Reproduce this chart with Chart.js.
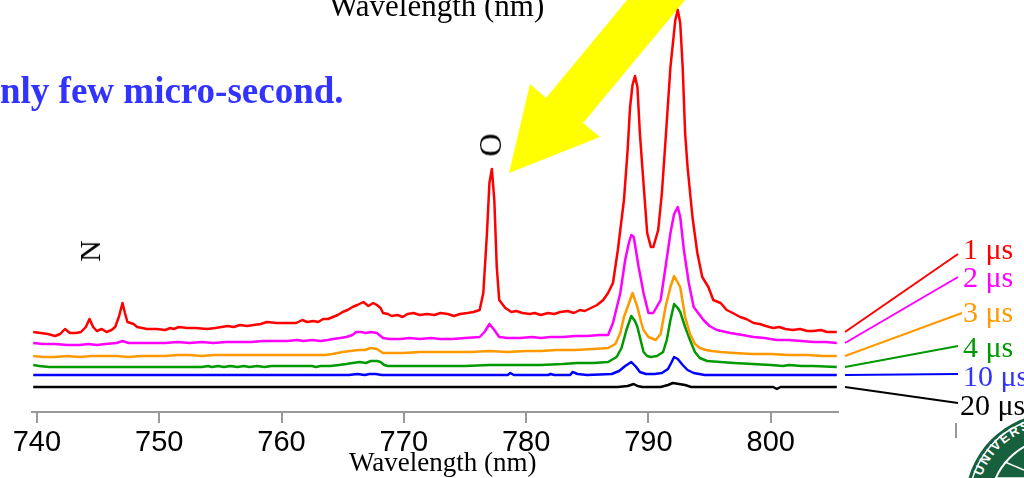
<!DOCTYPE html>
<html lang="en">
<head>
<meta charset="UTF-8">
<meta name="viewport" content="width=device-width, initial-scale=1.0">
<title>Emission spectra vs. delay</title>
<script src="https://cdn.jsdelivr.net/npm/chart.js"></script>
<style>
    body {
        margin: 0;
        padding: 0;
        background: #fff;
        overflow: hidden;
    }
    #page {
        position: relative;
        width: 1024px;
        height: 478px;
        overflow: hidden;
    }
    #deco {
        position: absolute;
        left: 0;
        top: 0;
    }
    #chartBox {
        position: absolute;
        left: 0;
        top: 0;
        width: 1024px;
        height: 478px;
    }
    .txt {
        position: absolute;
        white-space: nowrap;
        line-height: 1;
        font-family: "Liberation Serif", "Times New Roman", serif;
        color: #000;
    }
    .rot {
        transform: translate(-50%, -50%) rotate(-90deg);
    }
    .delay {
        font-size: 30px;
    }
</style>
</head>
<body>

<div id="page">
    <svg id="deco" width="1024" height="478">
        <!-- big yellow pointer -->
        <polygon points="509,173 600,137 583,123 700,-18 642,-18 546,98 530,84" fill="#ffff00"/>
        <!-- tick of the neighbouring axis -->
        <line x1="956" y1="423" x2="956" y2="438" stroke="#999" stroke-width="2"/>
        <!-- seal, bottom right -->
        <circle cx="1055" cy="503" r="90" fill="#17603d"/>
        <circle cx="1055" cy="503" r="86" fill="none" stroke="#fff" stroke-width="1.5"/>
        <path id="sealArc" d="M 981.7 476.3 A 78 78 0 0 1 1128.3 476.3" fill="none"/>
        <text font-family="Liberation Sans, Arial, sans-serif" font-weight="bold" font-size="13" fill="#fff" letter-spacing="2">
            <textPath href="#sealArc">UNIVERSITY</textPath>
        </text>
        <circle cx="1055" cy="503" r="64" fill="none" stroke="#fff" stroke-width="2"/>
        <line x1="996" y1="478" x2="1024" y2="478" stroke="#fff" stroke-width="1.5"/>
        <line x1="1005" y1="462" x2="1024" y2="470" stroke="#fff" stroke-width="1.5"/>
    </svg>

    <div id="chartBox"><canvas id="spectra"></canvas></div>

    <div class="txt" style="left:329px; top:-10px; font-size:31px;">Wavelength (nm)</div>
    <div class="txt" style="left:0px; top:72px; font-size:37px; font-weight:bold; color:#3333ff;">nly few micro-second.</div>
    <div class="txt" style="left:349px; top:449px; font-size:27px;">Wavelength (nm)</div>

    <div class="txt rot" style="left:490px; top:145px; font-size:32px;">O</div>
    <div class="txt rot" style="left:90px; top:251px; font-size:30px;">N</div>

    <div class="txt delay" style="left:963px; top:234px; color:#ff0000;">1 μs</div>
    <div class="txt delay" style="left:963px; top:262px; color:#ff00ff;">2 μs</div>
    <div class="txt delay" style="left:963px; top:297px; color:#ff9900;">3 μs</div>
    <div class="txt delay" style="left:963px; top:332px; color:#009900;">4 μs</div>
    <div class="txt delay" style="left:963px; top:361px; color:#3333ff;">10 μs</div>
    <div class="txt delay" style="left:960px; top:390px; color:#000;">20 μs</div>
</div>

<script>
    // wavelength axis ticks (nm)
    const xTicks = [740, 750, 760, 770, 780, 790, 800];

    // spectra, stacked with an offset per delay (arbitrary units)
    const lam1us = [739.7, 740.3, 740.9, 741.5, 741.9, 742.3, 742.7, 743.2, 743.6, 744.0, 744.3, 744.6, 744.9, 745.3, 745.7, 746.1, 746.4, 746.7, 747.0, 747.2, 747.4, 747.9, 748.2, 748.6, 749.0, 749.8, 750.5, 750.9, 751.2, 751.6, 752.3, 753.0, 753.9, 754.6, 755.6, 756.1, 756.6, 757.2, 757.7, 758.3, 758.8, 759.6, 760.5, 761.2, 761.7, 762.1, 762.6, 763.0, 763.4, 763.8, 764.2, 764.6, 765.0, 765.4, 765.8, 766.2, 766.7, 767.1, 767.5, 767.8, 768.1, 768.3, 768.7, 769.0, 769.5, 769.9, 770.3, 770.8, 771.3, 771.9, 772.5, 773.0, 773.6, 774.1, 774.6, 775.2, 775.7, 776.2, 776.5, 776.8, 777.0, 777.2, 777.4, 777.6, 777.8, 778.3, 778.8, 779.2, 779.7, 780.3, 780.7, 781.2, 781.8, 782.3, 782.8, 783.4, 783.9, 784.4, 784.8,
        785.3, 785.8, 786.3, 786.7, 787.1, 787.5, 788.0, 788.3, 788.5, 788.7, 788.9, 789.1, 789.3, 789.5, 789.7, 789.9, 790.2, 790.4, 790.8, 791.1, 791.4, 791.8, 792.2, 792.4, 792.6, 792.8, 793.0, 793.2, 793.6, 794.0, 794.4, 794.9, 795.3, 795.9, 796.4, 796.9, 797.5, 798.0, 798.6, 799.1, 799.6, 800.2, 800.7, 801.2, 801.8, 802.4, 803.0, 803.5, 804.1, 804.6, 805.4];
    const sig1us = [80, 79, 78, 76, 78, 83, 79, 79, 80, 85, 93, 85, 81, 83, 80, 82, 85, 95, 109, 99, 90, 88, 85, 84, 83, 83, 82, 84, 83, 85, 84, 84, 83, 84, 86, 85, 87, 86, 87, 88, 90, 89, 89, 89, 92, 90, 91, 90, 93, 93, 95, 97, 100, 102, 105, 107, 110, 106, 109, 107, 104, 99, 98, 96, 97, 95, 98, 99, 97, 98, 97, 99, 98, 96, 98, 99, 100, 102, 119, 179, 229, 243, 212, 145, 112, 104, 100, 101, 99, 98, 99, 97, 99, 98, 100, 101, 99, 102, 101,
        104, 107, 112, 119, 129, 162, 212, 262, 305, 327, 336, 325, 279, 245, 212, 179, 165, 165, 182, 219, 272, 345, 392, 402, 389, 345, 279, 245, 195, 159, 135, 125, 112, 109, 102, 99, 95, 93, 89, 88, 86, 84, 85, 83, 82, 83, 81, 81, 82, 80, 80];

    const lam2us = [739.7, 740.5, 741.5, 742.5, 743.5, 744.2, 744.9, 745.6, 746.5, 747.0, 747.5, 748.5, 749.5, 750.5, 751.5, 752.5, 753.5, 754.4, 755.5, 756.5, 757.5, 758.5, 759.5, 760.5, 761.3, 761.8, 762.5, 763.2, 763.8, 764.2, 764.8, 765.3, 765.8, 766.1, 766.5, 766.9, 767.3, 767.8, 768.1, 768.3, 768.8, 769.7, 770.5, 771.3, 772.2, 773.0, 774.0, 775.0, 776.2, 776.6, 777.0, 777.4, 777.8, 778.5, 779.5, 780.5, 781.2, 782.0, 783.0, 784.0, 785.0, 786.0,
        786.7, 787.1, 787.4, 787.7, 788.1, 788.4, 788.6, 788.8, 789.2, 789.6, 790.0, 790.4, 791.0, 791.4, 791.8, 792.1, 792.4, 792.6, 792.9, 793.3, 793.7, 794.5, 795.0, 795.6, 796.7, 797.7, 798.6, 799.5, 800.5, 801.5, 802.5, 803.5, 804.5, 805.4];
    const sig2us = [69, 68, 68, 67, 67, 68, 67, 68, 69, 71, 69, 69, 69, 69, 70, 69, 70, 69, 70, 70, 70, 71, 71, 71, 72, 71, 72, 71, 72, 73, 74, 75, 77, 80, 80, 79, 80, 79, 76, 74, 73, 73, 74, 73, 74, 73, 73, 74, 75, 80, 88, 82, 75, 74, 74, 75, 74, 75, 75, 76, 76, 77,
        77, 89, 104, 119, 152, 169, 177, 175, 145, 119, 99, 99, 112, 145, 179, 198, 205, 195, 162, 129, 105, 92, 86, 82, 79, 77, 75, 74, 72, 72, 71, 70, 70, 69];

    const lam3us = [739.7, 740.5, 741.5, 742.5, 743.5, 744.5, 745.5, 746.5, 747.5, 748.5, 749.5, 750.5, 751.5, 752.5, 753.5, 754.5, 755.5, 756.5, 757.5, 758.5, 759.5, 760.5, 761.5, 762.5, 763.5, 764.2, 765.0, 765.6, 766.3, 766.8, 767.3, 767.8, 768.3, 769.0, 770.0, 771.3, 772.5, 774.0, 775.5, 777.0, 778.5, 780.0, 781.2, 782.5, 784.0, 785.5,
        786.7, 787.3, 787.7, 788.0, 788.3, 788.7, 789.1, 789.4, 789.6, 790.0, 790.6, 791.0, 791.4, 791.8, 792.1, 792.6, 793.0, 793.4, 793.8, 794.2, 794.7, 795.2, 795.9, 797.0, 798.5, 800.0, 801.5, 803.0, 804.2, 805.4];
    const sig3us = [56, 55, 55, 56, 55, 56, 56, 56, 55, 56, 56, 56, 57, 57, 56, 57, 57, 57, 57, 57, 57, 57, 57, 57, 57, 58, 60, 61, 62, 62, 64, 63, 59, 59, 59, 60, 60, 60, 60, 61, 60, 61, 61, 62, 62, 63,
        64, 68, 79, 95, 105, 119, 105, 90, 82, 75, 72, 78, 105, 125, 136, 125, 95, 78, 68, 64, 62, 61, 60, 59, 58, 58, 57, 57, 56, 56];

    const lam4us = [739.7, 740.2, 741.0, 742.0, 744.0, 746.0, 748.0, 750.0, 752.0, 753.5, 754.0, 754.3, 754.8, 755.3, 755.8, 756.4, 756.9, 757.4, 758.0, 758.6, 759.2, 759.8, 760.5, 761.5, 762.5, 762.8, 763.2, 764.0, 764.7, 765.3, 765.8, 766.4, 766.9, 767.3, 767.8, 768.1, 768.4, 768.7, 769.5, 770.5, 771.3, 773.0, 775.0, 777.0, 779.0, 781.2, 783.0, 784.2, 785.5, 786.7, 787.4, 787.8, 788.2, 788.6, 788.9, 789.1, 789.4, 789.6, 789.9, 790.2, 790.7, 791.2, 791.5, 791.8, 792.1, 792.4, 792.6, 793.0, 793.4, 793.8, 794.2, 794.8, 795.9, 797.0, 798.5, 800.0, 801.0, 801.5, 802.5, 803.5, 805.4];
    const sig4us = [47, 46, 45, 45, 45, 45, 45, 45, 45, 45, 46, 45, 46, 45, 46, 45, 46, 45, 46, 45, 46, 46, 46, 46, 46, 45, 46, 46, 47, 48, 49, 50, 49, 51, 51, 50, 47, 46, 46, 46, 46, 46, 46, 47, 47, 47, 48, 49, 49, 50, 55, 64, 82, 96, 91, 85, 70, 60, 56, 55, 56, 60, 72, 92, 108, 104, 100, 85, 72, 60, 54, 51, 50, 49, 48, 47, 46, 47, 46, 46, 45];

    const lam10us = [739.7, 745.0, 750.0, 755.0, 760.0, 765.5, 766.2, 766.8, 767.2, 767.7, 768.2, 770.0, 775.0, 778.5, 778.7, 779.0, 781.8, 782.0, 782.3, 783.6, 783.8, 784.2, 785.0, 787.0, 787.6, 788.1, 788.6, 789.0, 789.3, 789.8, 790.5, 791.1, 791.6, 791.9, 792.1, 792.4, 792.8, 793.2, 793.7, 794.6, 800.0, 805.4];
    const sig10us = [37, 37, 37, 37, 37, 37, 38, 37, 38, 38, 37, 37, 37, 37, 39, 37, 37, 38, 37, 37, 40, 38, 37, 38, 41, 46, 50, 45, 40, 38, 38, 39, 43, 50, 55, 53, 47, 42, 39, 37, 37, 37];

    const lam20us = [739.7, 750.0, 760.0, 770.0, 780.0, 787.5, 788.3, 788.8, 789.1, 789.5, 791.0, 791.6, 792.0, 792.5, 793.0, 793.5, 800.2, 800.5, 800.8, 805.4];
    const sig20us = [25, 25, 25, 25, 25, 25, 26, 28, 26, 25, 25, 27, 29, 28, 27, 25, 25, 23, 25, 25];

    const delays = ["1 μs", "2 μs", "3 μs", "4 μs", "10 μs", "20 μs"];
    const colors = ["#ff0000", "#ff00ff", "#ff9900", "#009900", "#0000ff", "#000000"];
    const lams = [lam1us, lam2us, lam3us, lam4us, lam10us, lam20us];
    const sigs = [sig1us, sig2us, sig3us, sig4us, sig10us, sig20us];

    // where each delay's leader line ends, next to its label
    const leaderEnds = [[958, 254], [958, 277], [962, 313], [958, 346], [958, 374], [958, 403]];

    const leaderPlugin = {
        id: "leaders",
        afterDatasetsDraw(chart) {
            const ctx = chart.ctx;
            const yScale = chart.scales.y;
            chart.data.datasets.forEach((ds, i) => {
                const last = ds.data[ds.data.length - 1];
                ctx.save();
                ctx.strokeStyle = ds.borderColor;
                ctx.lineWidth = 2;
                ctx.beginPath();
                ctx.moveTo(chart.chartArea.right + 7, yScale.getPixelForValue(last.y));
                ctx.lineTo(leaderEnds[i][0], leaderEnds[i][1]);
                ctx.stroke();
                ctx.restore();
            });
        }
    };

    const datasets = delays.map((label, i) => ({
        label: label,
        data: lams[i].map((x, k) => ({ x: x, y: sigs[i][k] })),
        borderColor: colors[i],
        borderWidth: 2.5,
        borderJoinStyle: "round",
        pointRadius: 0,
        tension: 0,
        fill: false
    }));

    new Chart(document.getElementById("spectra").getContext("2d"), {
        type: "line",
        data: { datasets: datasets },
        options: {
            responsive: true,
            maintainAspectRatio: false,
            animation: false,
            events: [],
            layout: { padding: { left: 32, right: 186, top: 0, bottom: 0 } },
            plugins: {
                legend: { display: false },
                tooltip: { enabled: false }
            },
            scales: {
                x: {
                    type: "linear",
                    min: 739.6,
                    max: 805.5,
                    afterBuildTicks: (scale) => { scale.ticks = xTicks.map(v => ({ value: v })); },
                    afterFit: (scale) => { scale.height = 66; },
                    grid: {
                        display: true,
                        drawOnChartArea: false,
                        drawTicks: true,
                        tickLength: 11,
                        color: "#999",
                        lineWidth: 2
                    },
                    border: { display: true, color: "#999", width: 2 },
                    ticks: {
                        color: "#000",
                        padding: 3,
                        maxRotation: 0,
                        font: { family: "'Liberation Sans', Arial, sans-serif", size: 29 }
                    }
                },
                y: {
                    display: false,
                    min: 0,
                    max: 412
                }
            }
        },
        plugins: [leaderPlugin]
    });
</script>

</body>
</html>
